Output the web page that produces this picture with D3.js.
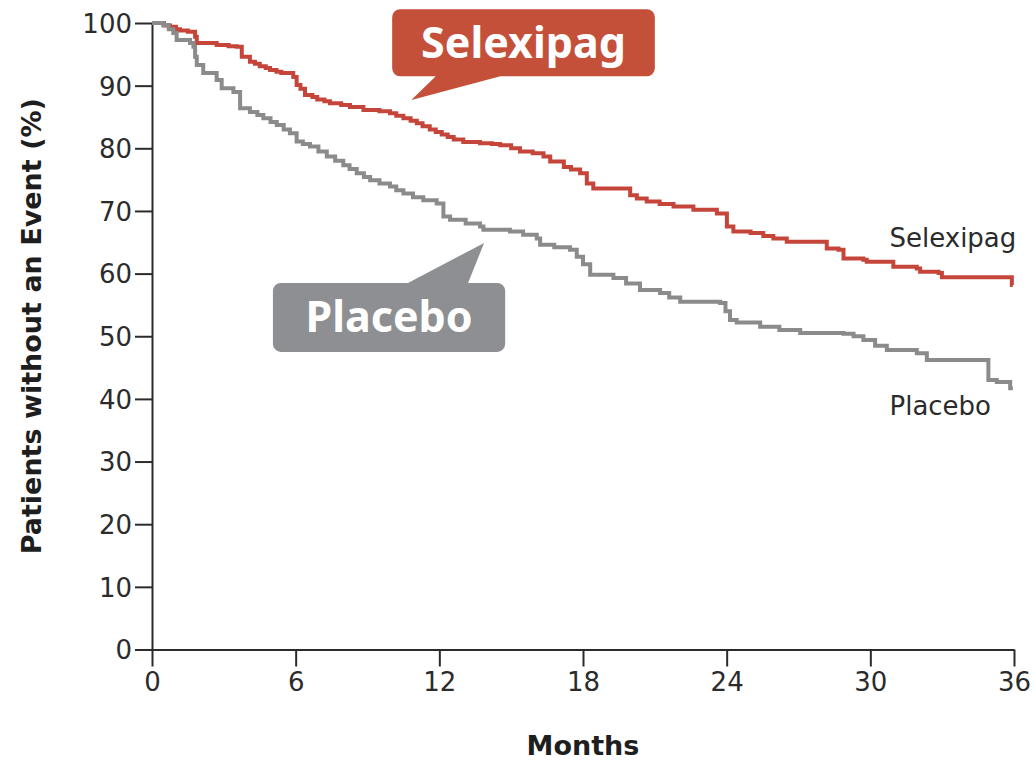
<!DOCTYPE html>
<html>
<head>
<meta charset="utf-8">
<script src="https://cdn.jsdelivr.net/npm/d3@7"></script>
<style>
  html, body { margin: 0; padding: 0; background: #fff; }
  svg { display: block; }
</style>
</head>
<body>
<svg id="chart" width="1036" height="761"></svg>
<script>
// Kaplan-Meier step data: month of each step and % without an event after it
const selexipagMonths = [0, 0.5, 0.75, 1.0, 1.17, 1.5, 1.8, 1.87, 2.7, 3.2, 3.54, 3.75, 4.09, 4.3, 4.5, 4.75, 4.93, 5.2, 5.4, 5.9, 6.04, 6.2, 6.39, 6.7, 6.9, 7.2, 7.43, 7.9, 8.27, 8.83, 9.5, 9.94, 10.2, 10.5, 10.8, 11.06, 11.3, 11.6, 11.85, 12.1, 12.35, 12.6, 13.0, 13.7, 14.2, 14.54, 15.0, 15.37, 15.9, 16.35, 16.63, 17.2, 17.5, 17.88, 18.16, 18.43, 19.97, 20.25, 20.66, 21.2, 21.78, 22.61, 23.59, 24.01, 24.28, 25.0, 25.53, 25.95, 26.51, 28.18, 28.67, 28.88, 29.71, 29.85, 30.96, 31.94, 32.08, 32.85, 32.99, 35.91, 35.95];
const selexipagPct    = [100, 99.6, 99.4, 99.0, 98.8, 98.6, 97.8, 96.8, 96.5, 96.3, 96.2, 94.6, 93.8, 93.5, 93.1, 92.8, 92.5, 92.2, 92.0, 91.4, 90.1, 89.5, 88.5, 88.2, 87.8, 87.5, 87.2, 86.9, 86.6, 86.1, 85.9, 85.6, 85.2, 84.8, 84.4, 84.0, 83.5, 83.0, 82.6, 82.2, 81.8, 81.4, 81.0, 80.8, 80.7, 80.5, 80.0, 79.5, 79.2, 78.7, 77.9, 77.0, 76.6, 76.0, 74.4, 73.6, 72.5, 72.0, 71.5, 71.1, 70.7, 70.2, 69.6, 67.5, 66.7, 66.5, 66.0, 65.6, 65.1, 64.0, 63.8, 62.4, 62.2, 61.9, 61.1, 60.8, 60.3, 60.1, 59.4, 58.2, 58.2];

const placeboMonths = [0, 0.47, 0.7, 0.89, 1.03, 1.59, 1.73, 1.8, 1.87, 2.14, 2.7, 2.91, 3.4, 3.68, 4.09, 4.4, 4.65, 4.95, 5.21, 5.5, 5.76, 6.04, 6.3, 6.6, 6.95, 7.3, 7.65, 7.99, 8.25, 8.55, 8.85, 9.11, 9.5, 9.94, 10.2, 10.5, 10.9, 11.33, 11.89, 12.17, 12.45, 13.1, 13.7, 13.84, 14.95, 15.5, 16.07, 16.21, 16.8, 17.46, 17.74, 18.0, 18.3, 19.27, 19.8, 20.38, 21.22, 21.6, 22.06, 23.73, 23.95, 24.14, 24.42, 25.4, 26.2, 27.07, 28.88, 29.3, 29.71, 30.2, 30.69, 31.94, 32.36, 34.93, 35.28, 35.84, 35.95];
const placeboPct    = [100, 99.7, 99.0, 98.4, 97.3, 96.8, 96.2, 94.6, 93.3, 92.0, 90.9, 89.6, 89.0, 86.4, 85.8, 85.3, 84.8, 84.2, 83.7, 83.0, 82.4, 81.1, 80.7, 80.3, 79.5, 78.7, 78.0, 77.3, 76.7, 76.0, 75.4, 74.9, 74.4, 73.9, 73.3, 72.8, 72.2, 71.7, 71.2, 69.1, 68.6, 68.0, 67.5, 67.0, 66.7, 66.2, 65.6, 64.6, 64.2, 63.8, 62.7, 61.5, 59.8, 59.3, 58.4, 57.4, 56.9, 56.2, 55.5, 55.3, 54.0, 52.6, 52.2, 51.5, 51.0, 50.5, 50.4, 50.0, 49.4, 48.5, 47.8, 47.3, 46.2, 43.0, 42.7, 41.7, 41.7];

const xTickValues = [0, 6, 12, 18, 24, 30, 36];
const yTickValues = [0, 10, 20, 30, 40, 50, 60, 70, 80, 90, 100];

const seriesNames = ["Selexipag", "Placebo"];
const xTitle = "Months";
const yTitle = "Patients without an Event (%)";

const lineColors = { Selexipag: "#c6453a", Placebo: "#8b8b8b" };
const calloutColors = { Selexipag: "#c5503a", Placebo: "#8e8f92" };
const inkColor = "#2b2b2b";
const tickFont = "'DejaVu Sans', sans-serif";

const svg = d3.select("#chart");

const x = d3.scaleLinear().domain([0, 36]).range([152, 1014]);
const y = d3.scaleLinear().domain([0, 100]).range([649.5, 23]);

// Axes
const xAxis = d3.axisBottom(x).tickValues(xTickValues).tickSize(17).tickSizeOuter(0).tickPadding(6);
const yAxis = d3.axisLeft(y).tickValues(yTickValues).tickSize(17).tickSizeOuter(0).tickPadding(3);

const gx = svg.append("g").attr("transform", `translate(0,${y(0)})`).call(xAxis);
const gy = svg.append("g").attr("transform", `translate(${x(0)},0)`).call(yAxis);

[gx, gy].forEach(g => {
  g.select(".domain").attr("stroke", inkColor).attr("stroke-width", 2);
  g.selectAll(".tick line").attr("stroke", inkColor).attr("stroke-width", 2);
  g.selectAll(".tick text")
    .attr("fill", inkColor)
    .style("font-family", tickFont)
    .style("font-size", "26px");
});
gy.selectAll(".tick text").attr("dy", "0.36em");

// Axis titles
svg.append("text")
  .attr("x", (x(0) + x(36)) / 2)
  .attr("y", 755)
  .attr("text-anchor", "middle")
  .attr("fill", "#1e1e1e")
  .style("font-family", tickFont)
  .style("font-weight", "bold")
  .style("font-size", "27px")
  .text(xTitle);

svg.append("text")
  .attr("transform", `translate(41,${(y(0) + y(100)) / 2 - 10}) rotate(-90)`)
  .attr("text-anchor", "middle")
  .attr("fill", "#1e1e1e")
  .style("font-family", tickFont)
  .style("font-weight", "bold")
  .style("font-size", "27px")
  .text(yTitle);

// Survival curves
const stepLine = d3.line()
  .x(d => x(d[0]))
  .y(d => y(d[1]))
  .curve(d3.curveStepAfter);

const series = [
  { name: "Selexipag", data: d3.zip(selexipagMonths, selexipagPct) },
  { name: "Placebo", data: d3.zip(placeboMonths, placeboPct) }
];

svg.append("g").selectAll("path")
  .data(series)
  .join("path")
  .attr("d", d => stepLine(d.data))
  .attr("fill", "none")
  .attr("stroke", d => lineColors[d.name])
  .attr("stroke-width", 4)
  .attr("stroke-linejoin", "miter");

// Curve end labels
const endLabels = [
  { name: seriesNames[0], at: [30.8, 64.2] },
  { name: seriesNames[1], at: [30.8, 37.5] }
];
svg.append("g").selectAll("text")
  .data(endLabels)
  .join("text")
  .attr("x", d => x(d.at[0]))
  .attr("y", d => y(d.at[1]))
  .attr("fill", inkColor)
  .style("font-family", tickFont)
  .style("font-size", "26px")
  .text(d => d.name);

// Speech-bubble callouts (box corners, tail base and tip in chart units)
const callouts = [
  { name: seriesNames[0], box: [10.03, 102.2, 21.0, 91.5], tail: [11.85, 14.55, 10.83, 87.7], side: "bottom" },
  { name: seriesNames[1], box: [5.05, 58.5, 14.75, 47.5], tail: [10.69, 13.2, 13.87, 64.9], side: "top" }
];

function bubblePath(c) {
  const x0 = x(c.box[0]), y0 = y(c.box[1]), x1 = x(c.box[2]), y1 = y(c.box[3]);
  const r = 8;
  const ta = x(c.tail[0]), tb = x(c.tail[1]), tx = x(c.tail[2]), ty = y(c.tail[3]);
  const p = d3.path();
  p.moveTo(x0 + r, y0);
  if (c.side === "top") { p.lineTo(ta, y0); p.lineTo(tx, ty); p.lineTo(tb, y0); }
  p.lineTo(x1 - r, y0);
  p.arcTo(x1, y0, x1, y0 + r, r);
  p.lineTo(x1, y1 - r);
  p.arcTo(x1, y1, x1 - r, y1, r);
  if (c.side === "bottom") { p.lineTo(tb, y1); p.lineTo(tx, ty); p.lineTo(ta, y1); }
  p.lineTo(x0 + r, y1);
  p.arcTo(x0, y1, x0, y1 - r, r);
  p.lineTo(x0, y0 + r);
  p.arcTo(x0, y0, x0 + r, y0, r);
  p.closePath();
  return p.toString();
}

const cg = svg.append("g").selectAll("g")
  .data(callouts)
  .join("g");

cg.append("path")
  .attr("d", bubblePath)
  .attr("fill", d => calloutColors[d.name]);

cg.append("text")
  .attr("x", d => (x(d.box[0]) + x(d.box[2])) / 2)
  .attr("y", d => (y(d.box[1]) + y(d.box[3])) / 2 + 15)
  .attr("text-anchor", "middle")
  .attr("fill", "#ffffff")
  .style("font-family", "'Noto Sans', sans-serif")
  .style("font-weight", "bold")
  .style("font-size", "43px")
  .text(d => d.name);
</script>
</body>
</html>
